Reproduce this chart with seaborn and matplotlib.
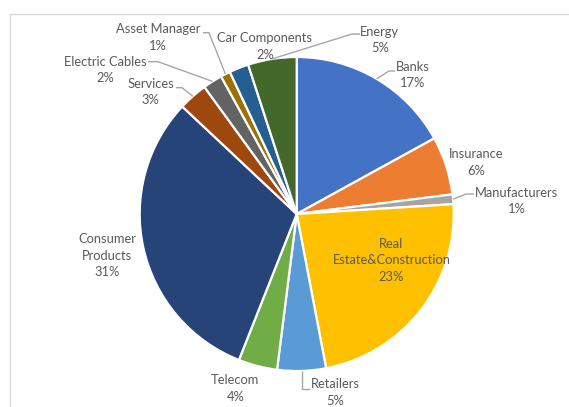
import numpy as np
import matplotlib
matplotlib.use("Agg")
import matplotlib.pyplot as plt
import seaborn as sns

# Sector breakdown (share of portfolio, %), clockwise from 12 o'clock
sectors = ["Banks", "Insurance", "Manufacturers", "Real\nEstate&Construction",
           "Retailers", "Telecom", "Consumer\nProducts", "Services",
           "Electric Cables", "Asset Manager", "Car Components", "Energy"]
shares = [17, 6, 1, 23, 5, 4, 31, 3, 2, 1, 2, 5]
colors = ["#4472C4", "#ED7D31", "#A5A5A5", "#FFC000", "#5B9BD5", "#70AD47",
          "#264478", "#9E480E", "#636363", "#997300", "#255E91", "#43682B"]

sns.set_theme(style="white")
plt.rcParams["font.family"] = ["Lato", "DejaVu Sans"]

W, H = 569, 407
fig = plt.figure(figsize=(W / 100, H / 100), dpi=100)
ax = fig.add_axes([0, 0, 1, 1])

cx, cy, R = 296.7, H - 214.0, 157.0
palette = sns.color_palette(colors)
ax.pie(shares, colors=palette, startangle=90, counterclock=False,
       center=(cx, cy), radius=R,
       wedgeprops=dict(edgecolor="white", linewidth=1.6))
ax.set_xlim(0, W)
ax.set_ylim(0, H)
ax.set_aspect("auto")
ax.axis("off")

# chart-area border
ax.plot([10.5, 10.5], [H - 13.5, -5], color="#D9D9D9", lw=1, clip_on=False)
ax.plot([10.5, W + 5], [H - 13.5, H - 13.5], color="#D9D9D9", lw=1, clip_on=False)

total = float(sum(shares))
frac = np.array(shares) / total
cum = np.concatenate([[0], np.cumsum(frac)])
mid_deg = (cum[:-1] + frac / 2) * 360.0  # clockwise from top


def rim_point(i):
    a = np.deg2rad(mid_deg[i])
    return cx + R * np.sin(a), cy + R * np.cos(a)


# label block centres (first line), in pixel coordinates from top-left
label_pos = {
    "Banks": (413, 66.7),
    "Insurance": (476, 154),
    "Manufacturers": (516.5, 192.7),
    "Real\nEstate&Construction": (391.5, 243.5),
    "Retailers": (335, 384),
    "Telecom": (235.3, 380),
    "Consumer\nProducts": (107, 239),
    "Services": (150.8, 83.5),
    "Electric Cables": (105, 61.7),
    "Asset Manager": (158, 29),
    "Car Components": (265, 38),
    "Energy": (379.7, 31.7),
}
# leader lines: text end and bend point, pixel coordinates
leaders = {
    "Banks": [(395, 71), (389, 71)],
    "Manufacturers": [(474, 194), (466, 194)],
    "Retailers": [(310, 389), None],
    "Services": [(176, 87.7), (182, 87.7)],
    "Electric Cables": [(148, 61.7), (158, 61.7)],
    "Asset Manager": [(203, 32.7), (209, 32.7)],
    "Energy": [(360, 34), (352, 34)],
}

txt_color = "#595959"
line_color = "#A6A6A6"
pitch = 16.7
for i, name in enumerate(sectors):
    lines = name.split("\n") + [f"{round(frac[i] * 100):.0f}%"]
    x0, y0 = label_pos[name]
    for k, ln in enumerate(lines):
        ax.text(x0, H - (y0 + k * pitch), ln, ha="center", va="center",
                fontsize=9.3, color=txt_color)
    if name in leaders:
        rx, ry = rim_point(i)
        start, bend = leaders[name]
        if bend is None:  # right-angled leader
            bend = (rx, start[1])
        pts = [(start[0], H - start[1]), (bend[0], H - bend[1]), (rx, ry)]
        xs, ys = zip(*pts)
        ax.plot(xs, ys, color=line_color, lw=1, solid_capstyle="butt")

fig.savefig("out.png", dpi=100)
